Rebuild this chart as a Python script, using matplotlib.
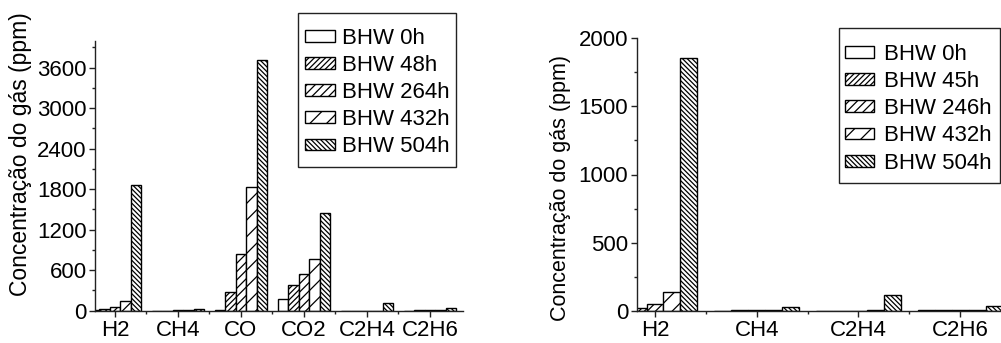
import matplotlib
matplotlib.use("Agg")
import matplotlib.pyplot as plt
from matplotlib.ticker import MultipleLocator, FixedLocator
from matplotlib.patches import Rectangle
import numpy as np

plt.rcParams['font.family'] = ['Liberation Sans', 'DejaVu Sans']
plt.rcParams['hatch.linewidth'] = 0.9
plt.rcParams['hatch.color'] = 'black'

# ---- data: left panel (all gases) ----
gases_a = ["H2", "CH4", "CO", "CO2", "C2H4", "C2H6"]
labels_a = ["BHW 0h", "BHW 48h", "BHW 264h", "BHW 432h", "BHW 504h"]
a_0h = [5, 1, 10, 180, 1, 2]
a_48h = [18, 2, 275, 385, 1, 5]
a_264h = [50, 3, 835, 540, 1, 5]
a_432h = [138, 5, 1830, 760, 2, 5]
a_504h = [1855, 28, 3715, 1445, 112, 38]

# ---- data: right panel (without CO / CO2) ----
gases_b = ["H2", "CH4", "C2H4", "C2H6"]
labels_b = ["BHW 0h", "BHW 45h", "BHW 246h", "BHW 432h", "BHW 504h"]
b_0h = [5, 1, 1, 2]
b_45h = [18, 2, 1, 5]
b_246h = [50, 3, 1, 5]
b_432h = [138, 5, 2, 5]
b_504h = [1855, 28, 112, 38]

hatches = ["", "//////", "////", "//", "\\\\\\\\\\\\\\"]
TICK_FS = 16
LEG_FS = 16
W = 1 / 6


def draw_panel(ax, gases, series, labels, xlim, ylim, major, minor):
    x = np.arange(len(gases))
    handles = []
    for i, (vals, h) in enumerate(zip(series, hatches)):
        b = ax.bar(x + (i - 2) * W, vals, width=W, color="white",
                   edgecolor="black", linewidth=1.0, hatch=h, label=labels[i])
        handles.append(b)
    ax.set_xlim(*xlim)
    ax.set_ylim(*ylim)
    ax.spines["top"].set_visible(False)
    ax.spines["right"].set_visible(False)
    for s in ("left", "bottom"):
        ax.spines[s].set_linewidth(1.0)
        ax.spines[s].set_color("#222222")
    ax.set_xticks(x)
    ax.set_xticklabels(gases)
    ax.xaxis.set_minor_locator(FixedLocator(x[:-1] + 0.5))
    ax.yaxis.set_major_locator(MultipleLocator(major))
    ax.yaxis.set_minor_locator(MultipleLocator(minor))
    ax.tick_params(axis="both", which="major", direction="out", length=4,
                   width=1.0, labelsize=TICK_FS, color="#222222", pad=2)
    ax.tick_params(axis="both", which="minor", direction="out", length=2.5,
                   width=1.0, color="#222222")
    ax.tick_params(axis="x", which="major", pad=2.5)
    return handles


fig = plt.figure(figsize=(10.01, 3.43), dpi=100)
FW, FH = 1001.0, 343.0

# left axes: x 95..463 px, y 40.5..310.7 px (from top)
ax1 = fig.add_axes([95 / FW, 1 - 310.7 / FH, (463 - 95) / FW, (310.7 - 40.5) / FH])
h1 = draw_panel(ax1, gases_a, [a_0h, a_48h, a_264h, a_432h, a_504h], labels_a,
                (-0.317, 5.524), (0, 4000), 600, 300)
ax1.set_ylabel("Concentração do gás (ppm)", fontsize=16.5)
ax1.yaxis.set_label_coords(-0.172, 0.58)

# right axes: x 636.7..1001 px, y 38.3..310.7 px
ax2 = fig.add_axes([636.7 / FW, 1 - 310.7 / FH, (FW - 636.7) / FW, (310.7 - 38.3) / FH])
h2 = draw_panel(ax2, gases_b, [b_0h, b_45h, b_246h, b_432h, b_504h], labels_b,
                (-0.18, 3.402), (0, 2000), 500, 250)
ax2.set_ylabel("Concentração do gás (ppm)", fontsize=15.5)
ax2.yaxis.set_label_coords(-0.18, 0.45)

# legend frames
fig.patches.append(Rectangle((298 / FW, 1 - 166.7 / FH), (456 - 298) / FW,
                             (166.7 - 12.7) / FH, transform=fig.transFigure,
                             fill=False, edgecolor="#222222", linewidth=1.0))
fig.patches.append(Rectangle((839 / FW, 1 - 182.7 / FH), (1000 - 839) / FW,
                             (182.7 - 27.7) / FH, transform=fig.transFigure,
                             fill=False, edgecolor="#222222", linewidth=1.0))

common = dict(frameon=False, fontsize=LEG_FS, handleheight=0.45,
              labelspacing=0.28, borderpad=0, borderaxespad=0, loc="center left",
              bbox_transform=fig.transFigure)
fig.legend(handles=h1, labels=labels_a,
           bbox_to_anchor=(305 / FW, 1 - 92.5 / FH),
           handlelength=1.35, handletextpad=0.3, **common)
fig.legend(handles=h2, labels=labels_b,
           bbox_to_anchor=(845 / FW, 1 - 108.7 / FH),
           handlelength=1.3, handletextpad=0.45, **common)

fig.savefig("out.png", dpi=100)
